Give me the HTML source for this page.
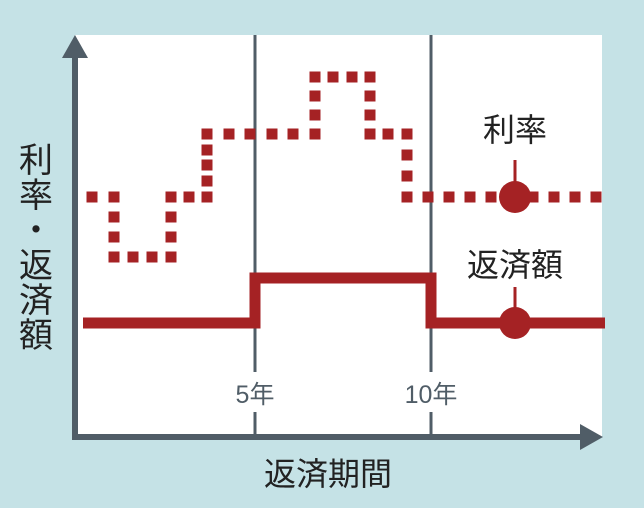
<!DOCTYPE html>
<html><head><meta charset="utf-8"><style>
body{margin:0;background:#c5e2e6;}
svg{display:block}
text{font-family:"Liberation Sans","Noto Sans CJK JP",sans-serif;}
</style></head><body>
<svg width="644" height="508" viewBox="0 0 644 508">
<rect x="0" y="0" width="644" height="508" fill="#c5e2e6"/>
<rect x="75" y="35" width="527" height="402" fill="#fff"/>
<g stroke="#505d67" stroke-width="3">
<line x1="255" y1="35" x2="255" y2="372"/>
<line x1="255" y1="412" x2="255" y2="437"/>
<line x1="431" y1="35" x2="431" y2="372"/>
<line x1="431" y1="412" x2="431" y2="437"/>
</g>
<g fill="#505d67" font-size="25">
<text x="255" y="403" text-anchor="middle">5年</text>
<text x="431" y="403" text-anchor="middle">10年</text>
</g>
<g fill="#a52224">
<!-- row y197 -->
<rect x="86.5" y="191.5" width="11" height="11"/><rect x="108.5" y="191.5" width="11" height="11"/>
<rect x="108.5" y="211.5" width="11" height="11"/><rect x="108.5" y="231.5" width="11" height="11"/>
<rect x="108.5" y="251.5" width="11" height="11"/><rect x="127.5" y="251.5" width="11" height="11"/><rect x="146.5" y="251.5" width="11" height="11"/><rect x="165.5" y="251.5" width="11" height="11"/>
<rect x="165.5" y="231.5" width="11" height="11"/><rect x="165.5" y="211.5" width="11" height="11"/>
<rect x="165.5" y="191.5" width="11" height="11"/><rect x="183.5" y="191.5" width="11" height="11"/><rect x="201.5" y="191.5" width="11" height="11"/>
<rect x="201.5" y="175.5" width="11" height="11"/><rect x="201.5" y="159.5" width="11" height="11"/><rect x="201.5" y="144.5" width="11" height="11"/>
<rect x="201.5" y="128.5" width="11" height="11"/><rect x="223.5" y="128.5" width="11" height="11"/><rect x="244.5" y="128.5" width="11" height="11"/><rect x="266.5" y="128.5" width="11" height="11"/><rect x="287.5" y="128.5" width="11" height="11"/><rect x="309.5" y="128.5" width="11" height="11"/>
<rect x="309.5" y="109.5" width="11" height="11"/><rect x="309.5" y="90.5" width="11" height="11"/>
<rect x="309.5" y="71.5" width="11" height="11"/><rect x="327.5" y="71.5" width="11" height="11"/><rect x="346.5" y="71.5" width="11" height="11"/><rect x="364.5" y="71.5" width="11" height="11"/>
<rect x="364.5" y="90.5" width="11" height="11"/><rect x="364.5" y="109.5" width="11" height="11"/>
<rect x="364.5" y="128.5" width="11" height="11"/><rect x="382.5" y="128.5" width="11" height="11"/><rect x="401.5" y="128.5" width="11" height="11"/>
<rect x="401.5" y="149.5" width="11" height="11"/><rect x="401.5" y="170.5" width="11" height="11"/>
<rect x="401.5" y="191.5" width="11" height="11"/><rect x="422.5" y="191.5" width="11" height="11"/><rect x="443.5" y="191.5" width="11" height="11"/><rect x="464.5" y="191.5" width="11" height="11"/><rect x="485.5" y="191.5" width="11" height="11"/><rect x="506.5" y="191.5" width="11" height="11"/><rect x="527.5" y="191.5" width="11" height="11"/><rect x="548.5" y="191.5" width="11" height="11"/><rect x="569.5" y="191.5" width="11" height="11"/><rect x="590.5" y="191.5" width="11" height="11"/>
</g>
<polyline points="83,323 255,323 255,278 431,278 431,323 605,323" fill="none" stroke="#a52224" stroke-width="11"/>
<g fill="#a52224" stroke="#a52224" stroke-width="3">
<line x1="515" y1="160" x2="515" y2="185"/>
<line x1="515" y1="287" x2="515" y2="310"/>
<circle cx="515" cy="197" r="16" stroke="none"/>
<circle cx="515" cy="323" r="16" stroke="none"/>
</g>
<g fill="#222" font-size="32">
<text x="515" y="141" text-anchor="middle">利率</text>
<text x="515" y="276" text-anchor="middle">返済額</text>
<text x="328" y="485" text-anchor="middle">返済期間</text>
</g>
<g fill="#222" font-size="34" text-anchor="middle">
<text x="36" y="172">利</text>
<text x="36" y="207">率</text>
<text x="36" y="242">・</text>
<text x="36" y="277">返</text>
<text x="36" y="312">済</text>
<text x="36" y="347">額</text>
</g>
<g fill="#505d67">
<rect x="72" y="55" width="6" height="385"/>
<polygon points="75,35 62,58 88,58"/>
<rect x="72" y="434" width="512" height="6"/>
<polygon points="603,437 580,424 580,450"/>
</g>
</svg>
</body></html>
